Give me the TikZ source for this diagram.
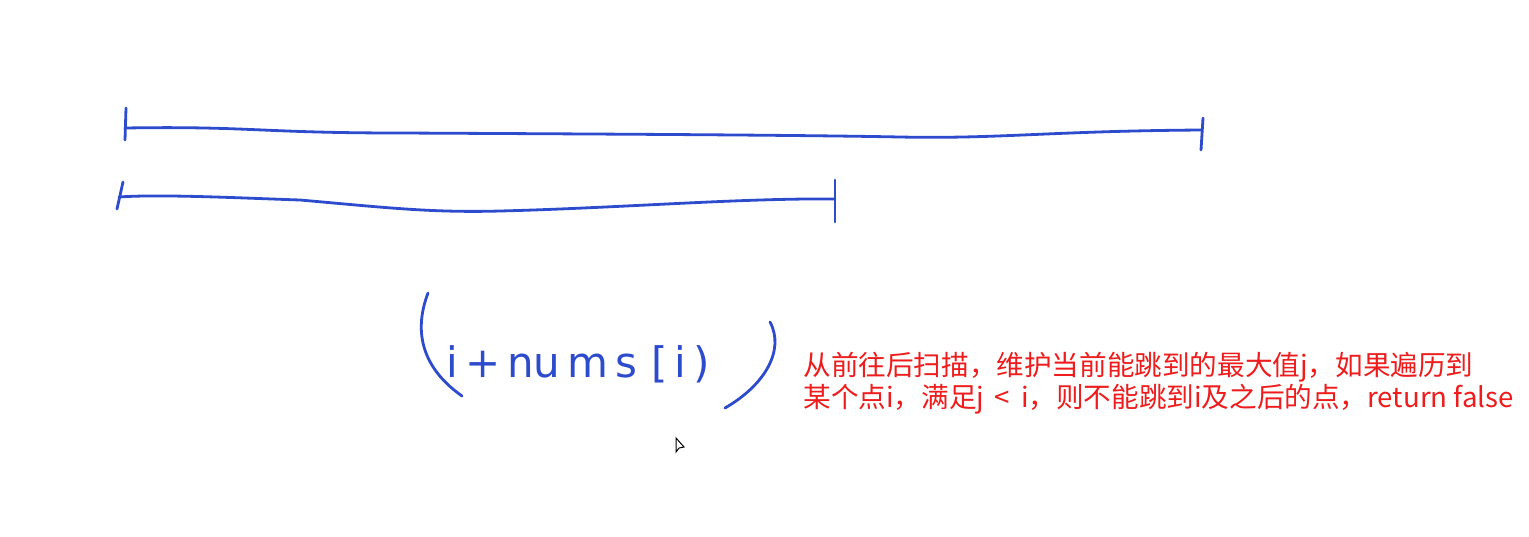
\documentclass[tikz,border=0pt]{standalone}
\usepackage{fontspec}
\newfontfamily\cjk{Noto Sans CJK SC}
\newfontfamily\hand{DejaVu Sans}
\definecolor{pen}{RGB}{45,75,205}
\definecolor{note}{RGB}{238,28,28}
\begin{document}
\begin{tikzpicture}[x=0.5pt,y=-0.5pt,
  stroke/.style={draw=pen,line width=1.4pt,line cap=round,line join=round},
  notetext/.style={text=note,font=\cjk\fontsize{13.8}{16}\selectfont,inner sep=0pt,anchor=base west},
  handtext/.style={text=pen,font=\hand\fontsize{21}{24}\selectfont,inner sep=0pt,anchor=base west}]
\useasboundingbox[fill=white] (0,0) rectangle (1529,536);
% long segment
\draw[stroke] (125,128) .. controls (250,126) and (260,133) .. (400,133)
  .. controls (600,134) and (800,135) .. (900,137)
  .. controls (1000,139) and (1050,131) .. (1202,130);
\draw[stroke] (126,108) -- (125,140);
\draw[stroke] (1203,118) -- (1201,150);
% short segment
\draw[stroke] (119,197) .. controls (160,194) and (240,198) .. (300,200)
  .. controls (380,207) and (430,213) .. (500,211)
  .. controls (620,208) and (740,198) .. (835,199);
\draw[stroke] (123,182) -- (117,209);
\draw[stroke] (835,180) -- (835,222);
% handwriting
\draw[stroke] (428,293) .. controls (412,335) and (425,370) .. (462,396);
\draw[stroke] (770,322) .. controls (785,350) and (765,385) .. (725,408);
\node[handtext] (expr) at (446,377) {i\,+\,nu\,m\,s\,\,[\,i\,)};
% note
\node[notetext] (n1) at (803,375) {从前往后扫描，维护当前能跳到的最大值j，如果遍历到};
\node[notetext] (n2) at (803,407) {某个点i，满足j\, <\, i，则不能跳到i及之后的点，return false};
% cursor
\draw[black,line width=0.5pt,fill=white] (676,438) -- (676,452) -- (679,448) -- (684,447) -- cycle;
\end{tikzpicture}
\end{document}
